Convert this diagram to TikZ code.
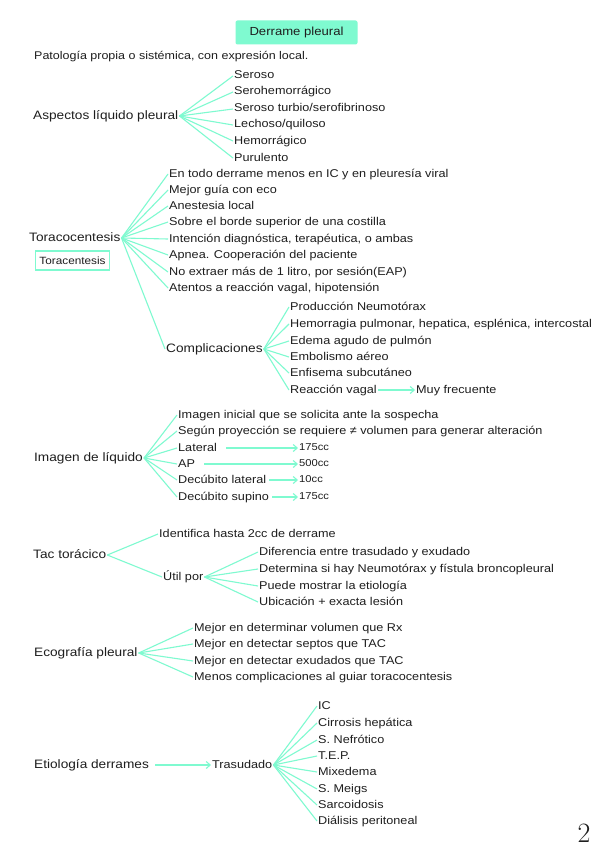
\documentclass[tikz,border=0pt]{standalone}
\usepackage{fontspec}
\newfontfamily\hand[FakeStretch=1.12]{Liberation Sans}
\usetikzlibrary{arrows.meta}
\definecolor{mint}{RGB}{127,250,208}
\definecolor{ink}{RGB}{30,30,30}
\begin{document}
\begin{tikzpicture}[x=1pt,y=-1pt,
  txt/.style={anchor=west, inner sep=1pt, text height=8.5pt, text depth=2.5pt, text=ink, font=\hand\fontsize{11.3}{12}\selectfont},
  par/.style={anchor=west, inner sep=1pt, text height=9pt, text depth=2.5pt, text=ink, font=\hand\fontsize{12.2}{13}\selectfont},
  val/.style={anchor=west, inner sep=1pt, text height=7.5pt, text depth=2pt, text=ink, font=\hand\fontsize{10}{11}\selectfont},
  fan/.style={draw=mint, line width=1.1pt},
  arr/.style={draw=mint, line width=1.1pt, -{Straight Barb[length=4pt,width=7pt]}}]
\useasboundingbox (0,0) rectangle (599,848);
\fill[white] (0,0) rectangle (599,848);

% title
\node[fill=mint, rounded corners=2pt, minimum width=122pt, minimum height=24pt, inner sep=0pt,
      text=ink, font=\hand\fontsize{11.7}{12}\selectfont] (title) at (296.5,32.5) {Derrame pleural};
\node[anchor=west, inner sep=1pt, text height=8.5pt, text depth=2.5pt, text=ink, font=\hand\fontsize{11.15}{12}\selectfont] (intro) at (33,57) {Patología propia o sistémica, con expresión local.};

% Aspectos
\node[par] (asp) at (32,116) {Aspectos líquido pleural};
\node[txt] (a1) at (233,76) {Seroso};
\node[txt] (a2) at (233,92) {Serohemorrágico};
\node[txt] (a3) at (233,109) {Seroso turbio/serofibrinoso};
\node[txt] (a4) at (233,125) {Lechoso/quiloso};
\node[txt] (a5) at (233,141) {Hemorrágico};
\node[txt] (a6) at (233,158) {Purulento};
\foreach \n in {a1,a2,a3,a4,a5,a6} \draw[fan] (asp.east) -- (\n.west);

% Toracocentesis
\node[par] (tor) at (28,238) {Toracocentesis};
\node[draw=mint, line width=1.5pt, fill=white, minimum width=74pt, minimum height=19pt, inner sep=0pt,
      text=ink, font=\hand\fontsize{10.5}{11}\selectfont] (torbox) at (72.5,260.5) {Toracentesis};
\node[txt] (t1) at (168,174) {En todo derrame menos en IC y en pleuresía viral};
\node[txt] (t2) at (168,190) {Mejor guía con eco};
\node[txt] (t3) at (168,206) {Anestesia local};
\node[txt] (t4) at (168,222) {Sobre el borde superior de una costilla};
\node[txt] (t5) at (168,239) {Intención diagnóstica, terapéutica, o ambas};
\node[txt] (t6) at (168,255) {Apnea. Cooperación del paciente};
\node[txt] (t7) at (168,272) {No extraer más de 1 litro, por sesión(EAP)};
\node[txt] (t8) at (168,288) {Atentos a reacción vagal, hipotensión};
\node[par] (comp) at (165,349) {Complicaciones};
\foreach \n in {t1,t2,t3,t4,t5,t6,t7,t8,comp} \draw[fan] (tor.east) -- (\n.west);
\node[txt] (c1) at (289,307) {Producción Neumotórax};
\node[txt] (c2) at (289,324) {Hemorragia pulmonar, hepatica, esplénica, intercostal};
\node[txt] (c3) at (289,341) {Edema agudo de pulmón};
\node[txt] (c4) at (289,357) {Embolismo aéreo};
\node[txt] (c5) at (289,373) {Enfisema subcutáneo};
\node[txt] (c6) at (289,390) {Reacción vagal};
\foreach \n in {c1,c2,c3,c4,c5,c6} \draw[fan] (comp.east) -- (\n.west);
\node[txt] (muy) at (415,390) {Muy frecuente};
\draw[arr] (c6.east) -- (muy.west);

% Imagen de liquido
\node[par] (img) at (33,458) {Imagen de líquido};
\node[txt] (i1) at (177,415) {Imagen inicial que se solicita ante la sospecha};
\node[txt] (i2) at (177,431) {Según proyección se requiere ≠ volumen para generar alteración};
\node[txt] (i3) at (177,448) {Lateral};
\node[txt] (i4) at (177,464) {AP};
\node[txt] (i5) at (177,480) {Decúbito lateral};
\node[txt] (i6) at (177,497) {Decúbito supino};
\foreach \n in {i1,i2,i3,i4,i5,i6} \draw[fan] (img.east) -- (\n.west);
\node[val] (v1) at (298,448) {175cc};
\node[val] (v2) at (298,464) {500cc};
\node[val] (v3) at (298,480) {10cc};
\node[val] (v4) at (298,497) {175cc};
\draw[arr, shorten <=8pt] (i3.east) -- (v1.west);
\draw[arr, shorten <=8pt] (i4.east) -- (v2.west);
\draw[arr, shorten <=2pt] (i5.east) -- (v3.west);
\draw[arr, shorten <=2pt] (i6.east) -- (v4.west);

% Tac toracico
\node[par] (tac) at (32,555) {Tac torácico};
\node[txt] (tac1) at (158,534) {Identifica hasta 2cc de derrame};
\node[txt] (util) at (162,577) {Útil por};
\foreach \n in {tac1,util} \draw[fan] (tac.east) -- (\n.west);
\node[txt] (u1) at (258,552) {Diferencia entre trasudado y exudado};
\node[txt] (u2) at (258,569) {Determina si hay Neumotórax y fístula broncopleural};
\node[txt] (u3) at (258,586) {Puede mostrar la etiología};
\node[txt] (u4) at (258,602) {Ubicación + exacta lesión};
\foreach \n in {u1,u2,u3,u4} \draw[fan] (util.east) -- (\n.west);

% Ecografia
\node[par] (eco) at (33,653) {Ecografía pleural};
\node[txt] (e1) at (193,628) {Mejor en determinar volumen que Rx};
\node[txt] (e2) at (193,644) {Mejor en detectar septos que TAC};
\node[txt] (e3) at (193,661) {Mejor en detectar exudados que TAC};
\node[txt] (e4) at (193,677) {Menos complicaciones al guiar toracocentesis};
\foreach \n in {e1,e2,e3,e4} \draw[fan] (eco.east) -- (\n.west);

% Etiologia
\node[par] (etio) at (33,765) {Etiología derrames};
\node[txt] (tras) at (211,765) {Trasudado};
\draw[arr, shorten <=5pt] (etio.east) -- (tras.west);
\node[txt] (r1) at (317,706) {IC};
\node[txt] (r2) at (317,723) {Cirrosis hepática};
\node[txt] (r3) at (317,740) {S. Nefrótico};
\node[txt] (r4) at (317,756) {T.E.P.};
\node[txt] (r5) at (317,772) {Mixedema};
\node[txt] (r6) at (317,789) {S. Meigs};
\node[txt] (r7) at (317,805) {Sarcoidosis};
\node[txt] (r8) at (317,821) {Diálisis peritoneal};
\foreach \n in {r1,r2,r3,r4,r5,r6,r7,r8} \draw[fan] (tras.east) -- (\n.west);

% page number
\node[inner sep=0pt, text=ink, font=\fontsize{28}{28}\selectfont] (pg) at (584,833) {2};
\end{tikzpicture}
\end{document}
